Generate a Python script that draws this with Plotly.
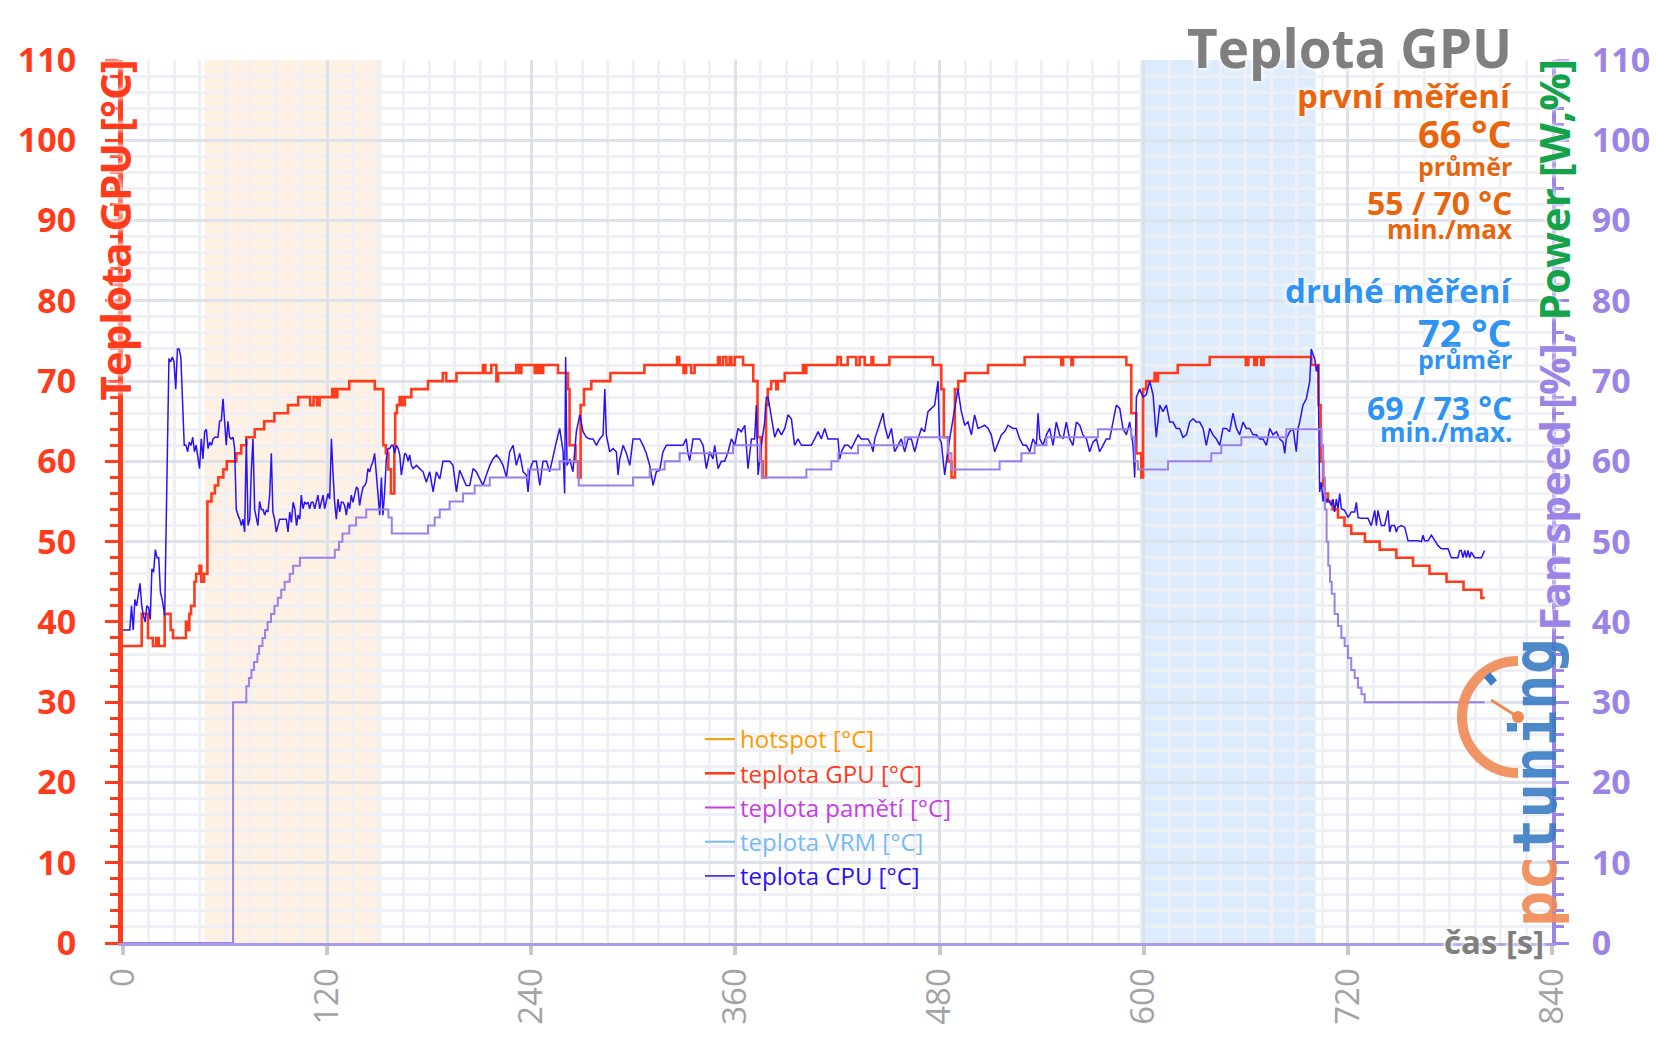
import plotly.graph_objects as go

# ---------------- data ----------------
gpu_t = [0, 11, 14.7, 17.6, 19.6, 21, 24.5, 28, 29.4, 37, 38, 39, 40, 42, 43, 45, 46, 47.6, 49.6, 52, 54, 56,
         59, 61, 66.6, 69.5, 72.5, 77.4, 83, 89, 97, 103, 110, 112, 114, 115.6, 123, 124.5, 126, 133, 148,
         153, 154.5, 156, 157.5, 159.5, 160, 161, 162.6, 164, 165.6, 169.5, 179.3, 188, 190, 196, 211.6, 213,
         216.5, 219.5, 220.5, 231.2, 232.8, 234.2, 242, 243, 244, 245, 246, 247, 255.7, 261.6, 262.5, 266,
         267.5, 269, 271, 275.3, 286.5, 306.5, 325.7, 327, 329.5, 331, 334, 336, 349.8, 350.8, 352.7, 354.7,
         356.6, 357.6, 359.6, 364.5, 370.5, 373, 375, 376, 378, 379, 381, 384, 385, 389, 399.7, 400.7, 401.7,
         420, 422, 426, 431, 433, 436, 440, 441, 450.5, 476, 481, 482.5, 485, 487, 489, 491, 495, 508.5, 530,
         551.5, 552.6, 557.5, 558.4, 589.8, 592.7, 595.7, 598.6, 599.6, 601.5, 606.4, 607.4, 608.4, 620,
         638.8, 660, 661.5, 665, 666.5, 669, 670.5, 698.5, 702.8, 704, 705.5, 706.4, 708.3, 711, 714.2, 718,
         722, 730, 738.7, 748.5, 758.3, 768, 778, 788, 798.5, 800.5]
gpu_v = [37, 41, 38, 37, 38, 37, 41, 39, 38, 40, 39, 41, 42, 45, 46, 47, 45, 46, 55, 56, 57, 58,
         59, 60, 61, 62, 63, 64, 65, 66, 67, 68, 67, 68, 67, 68, 69, 68, 69, 70, 69,
         62, 61, 59, 56, 62, 66, 67, 68, 67, 68, 69, 70, 71, 70, 71, 72, 71,
         72, 70, 71, 72, 71, 72, 71, 72, 71, 72, 71, 72, 71, 69, 62, 60,
         58, 67, 69, 70, 71, 72, 73, 72, 71, 72, 71, 72, 73, 72, 73, 72,
         73, 72, 73, 72, 70, 63, 60, 58, 67, 69, 70, 69, 70, 71, 72, 71, 72,
         73, 72, 73, 72, 73, 72, 73, 72, 73, 72, 69, 63, 60, 58, 69, 70, 71, 72, 73,
         72, 73, 72, 73, 72, 66, 61, 58, 69, 70, 71, 70, 71, 72,
         73, 72, 73, 72, 73, 72, 73, 72, 67, 60, 57, 56, 55, 54, 53, 52,
         51, 50, 49, 48, 47, 46, 45, 44, 43, 43]

cpu_t = [0, 2, 4, 5, 6, 7, 8, 10, 11, 12, 13, 14, 15, 16, 17, 18, 19, 20, 21, 22, 23, 24.5, 25.5, 27, 28, 29,
         30, 31, 32, 33, 34, 35, 36, 37, 38, 39, 40, 41, 42, 43, 44, 45, 46, 47, 48, 49, 50, 51, 52, 53, 54,
         55.8, 56.8, 57.8, 58.8, 59.8, 60.7, 61.7, 62.7, 63.7, 64.7, 65.6, 66.6, 67.6, 68.6, 69.6, 70.5, 71.5,
         72.5, 73.5, 74.5, 75.4, 76.4, 77.4, 78.4, 79.3, 80.3, 81.3, 82.3, 83.3, 84.2, 85.2, 86.2, 87.2, 88.1,
         89.1, 90.1, 91.1, 92.1, 93.1, 95, 96, 97, 98, 99, 100, 101, 102, 102.9, 103.9, 104.8, 105.8, 106.8,
         107.8, 108.8, 109.7, 110.7, 111.7, 112.7, 113.6, 114.6, 115.6, 116.6, 117.6, 118.5, 119.5, 120.5,
         121.5, 122.5, 123.4, 124.4, 125.4, 126.4, 127.4, 128.3, 129.3, 130.3, 131.3, 132.3, 133.2, 134.2,
         135.2, 136.2, 137.2, 138.1, 139.1, 140.1, 141.1, 142.1, 143, 144, 145, 146, 147, 147.9, 148.9,
         149.9, 150.9, 151.9, 152.8, 153.8, 154.8, 155.8, 156.8, 157.8, 158.7, 159.7, 160.7, 161.7, 162.7,
         163.6, 164.6, 165.6, 166.6, 167.6, 168.5, 169.5, 170.5,
         172.5, 174.4, 176.4, 178.3, 180.3, 182.3, 184.2, 186.2, 188.1, 190.1, 192.0, 194.0, 196.0, 197.9,
         199.9, 201.8, 203.8, 205.8, 207.7, 209.7, 211.6, 213.6, 215.6, 217.5, 219.5, 221.4, 223.4, 225.4,
         227.3, 229.3, 231.2, 233.2, 235.2, 237.1, 238.1, 239.1, 241.0, 243.0, 245.0, 246.9, 248.9, 250.8,
         252.8, 254.7, 256.7, 258.7, 259.6, 260.2, 261.0, 262.6, 264.5, 266.5, 268.5, 270.4, 272.4, 274.3,
         276.3, 278.3, 280.2, 282.2, 283.2, 284.1, 286.1, 288.1, 290.0, 291.0, 292.0, 294.0, 295.9, 297.9,
         299.8, 301.8, 303.8, 305.7, 307.6, 309.6, 311.6, 313.5, 315.5, 317.4, 319.4, 321.4, 323.3, 325.3,
         327.2, 329.2, 331.1, 332.1, 333.1, 335.1, 337.0, 339.0, 341.0, 342.9, 344.9, 346.8,
         347.8, 349.8, 351.7, 353.7, 355.7, 357.6, 359.6, 361.5, 363.5, 365.5, 367.4, 369.4, 371.3, 372.3,
         373.3, 375.2, 377.2, 378.2, 379.2, 381.1, 383.1, 385, 387, 389, 390.9, 392.9, 394.8, 396.8, 398.8,
         400.7, 402.7, 404.6, 406.6, 408.6, 410.5, 412.5, 414.4, 416.4, 418.4, 420.3, 421.3, 422.3, 424.2,
         426.2, 428.1, 430.1, 432.1, 434, 436, 437.9, 439.9, 440.9, 441.9, 443.8, 445.8, 446.8, 447.7,
         449.7, 451.7, 453.6, 455.6, 457.5, 459.5, 461.5, 463.4, 465.4, 467.3, 469.3, 471.2, 473.2, 475.2,
         477.1, 479.1, 480, 481, 483, 485, 486.9, 488.9, 490.8, 492.8, 494.8, 496.7, 498.7, 500.6, 502.6,
         504.6, 506.5, 508.5, 510.4, 512.4, 514.4, 516.3, 518.3, 520.2,
         523.2, 525.1, 527.1, 529.1, 531, 533, 534.9, 536.9, 537.9, 538.9, 540.8, 542.8, 544.7, 546.7,
         548.6, 550.6, 552.6, 554.5, 556.5, 558.4, 560.4, 562.4, 564.3, 566.3, 568.2, 570.2, 572.2, 574.1,
         576.1, 578, 580, 582, 583.9, 585.9, 587.8, 589.8, 591.8, 593.7, 594.7, 595.7, 597.6, 599.6, 601.5,
         603.5, 605.5, 607.4, 609.4, 611.3, 613.3, 615.3, 617.2, 619.2, 621.1, 623.1, 625.1, 627, 629,
         630.9, 632.9, 634.9, 636.8, 638.8, 640.7, 642.7, 644.7, 646.6, 648.6, 650.5, 652.5, 654.5, 656.4,
         658.4, 660.3, 662.3, 664.3, 666.2, 668.2, 670.1, 672.1, 674.1, 676, 678, 679.9, 681.9, 682.9,
         683.8, 685.8, 687.8, 689.7, 690.7, 691.7, 693.6,
         695.6, 697.6, 698.5, 699.5, 700.5, 701.5, 702.5, 702.8, 703.4, 704.4, 705.4, 706.4, 707.4, 708.3,
         710.3, 711.3, 712.2, 713.2, 714.2, 715.2, 716.2, 718.1, 720.1, 722, 724, 725, 726, 727.9, 729.9,
         731.8, 733.8, 734.8, 735.8, 736.8, 737.7, 739.7, 741.6, 743.6, 744.6, 745.6, 747.5, 748.5, 749.5,
         751.4, 753.4, 755.4, 757.3, 759.3, 761.2, 763.2, 764.2, 765.1, 767.1, 769.1, 771, 773, 775, 776.9,
         778.9, 780.8, 782.8, 784.7, 785.7, 786.7, 787.7, 788.7, 789.7, 790.6, 791.6, 792.6, 794.5, 796.5,
         798.5, 800.4]
cpu_v = [39, 39, 39, 42, 39, 42.8, 42, 44.8, 42, 40.8, 40, 42, 41.8, 40.3, 46.6, 46.2, 49, 48, 48, 43.7, 42.8,
         40.8, 55, 72.8, 72.4, 73,
         72.4, 69, 74, 74, 73, 67, 62, 62, 61.2, 62.4, 62, 63, 61.2, 62, 60.3, 59.1, 62.8, 60.3, 63.7, 64, 61.6,
         62.4, 62, 62.8, 63,
         63, 65, 65.1, 67.8, 65, 62, 65, 63, 62.8, 63, 61.6, 54, 53.3, 52.8, 52, 52.8, 51.2,
         62.8, 52, 52.8, 58.7, 62.8, 54, 52.8, 52, 55, 54, 54, 53.3, 53.9, 53.7, 55.8, 61, 53.7,
         52.8, 51.2, 52, 52.8, 52.8, 52.8, 52.8, 51.2, 53.7, 52.4, 54.9, 54.1, 52, 53.3, 52.8, 55.8, 54.1, 54.9,
         54.7, 54.9, 54.1, 54.9, 54.9, 54.1, 54.9, 55.8, 54.1, 54.9, 55.8, 54.1, 54.9, 56,
         55.3, 62.8, 58.7, 54.9, 52.8, 55.3, 53.7, 54.9, 54.9, 54.5, 53.3, 54.9, 54.1, 55.8,
         54.9, 55.8, 56.8, 56.6, 54.5, 55.8, 56.8, 57, 57.4, 59.1, 58.7, 59.5, 60, 61, 58.7,
         56.6, 53.3, 58, 53.3, 56.2, 60.3, 61.6, 61.6, 62, 62, 61, 62, 61.6, 60.8,
         58.3, 60, 61, 60.8, 60, 60.8, 59.5, 59.1,
         59.5, 59.1, 58.7, 57.4, 58.7, 56.2, 58.7, 57.8, 60, 60, 60, 59.5, 56.2, 58.9,
         57.8, 57, 57, 59.1, 58.7, 57.8, 57, 58.3, 59.5, 60.3, 60.8, 60.3, 59.5, 58,
         61.2, 62, 59.5, 61, 58.7, 58.3, 56.2, 58.9, 60, 60, 57, 60, 60, 58.7,
         60.8, 62.4, 64.1, 61.2, 56, 73, 59.5, 60.3, 58.7, 63.7, 65.8, 63.7, 63, 62.8,
         62.8, 62, 62.8, 63.3, 69, 63.3, 61.2, 61.6, 61.2, 58.3, 60.3, 62, 61, 59.5,
         62.8, 62.8, 62.8, 62, 61, 59.5, 57, 58.7, 58.9, 61.2, 62, 62, 62, 62,
         62, 62, 62.8, 61, 60.1, 62.8, 62.8, 62.8, 62, 59.1, 61.2, 60.3,
         62, 59.1, 60, 60, 61.2, 62.8, 62, 64.1, 63.7, 64.5, 59.1, 62.8, 62.8, 67,
         58.3, 62, 64.9, 68, 68, 65.3, 63, 64.1, 63.3, 64.1, 65.8, 65.3, 62, 62.8, 62,
         62, 62, 62, 62.8, 63.7, 62.8, 64.1, 62.8, 62.8, 62.8, 62.8, 60.3, 61.2, 62,
         62, 61.6, 62.4, 63.3, 62.8, 62.8, 62.8, 62, 61.2, 62.8, 64.1, 65.3, 66, 64.5,
         62.8, 64.1, 61.2, 62, 62.8, 61.2, 62.8, 62.8, 61.2, 62.8, 64.1, 63.7, 66.2, 66.6,
         67, 70, 62.8, 62.4, 58.3, 61.6, 64.1, 67, 69, 66.2, 64.5, 64.9, 63.3, 65.8, 64.1,
         64.3, 64.5, 64.1, 63.3, 61.2, 62.4, 63.3, 63.7, 64.5,
         64.1, 64.1, 62.8, 62, 62, 61.2, 62.8, 62, 66, 62.8, 62, 63.3, 64.1, 62,
         64.9, 63.3, 62.8, 64.9, 62.8, 62, 64.9, 64.5, 63.3, 62.8, 61.2, 62.4, 62.8, 61.2,
         62, 62.8, 62.8, 64.9, 67, 66.6, 64.1, 63.3, 64.9, 62, 58, 68, 69, 68, 68.3,
         70, 68.3, 63, 67, 66.2, 67, 64.9, 64.9, 64.1, 64.1, 63, 63.3, 64.9, 65.3,
         64.9, 64.9, 64.1, 62, 64.1, 63.3, 62.8, 62, 64.1, 64.1, 63.7, 66, 64.1, 63.3,
         64.9, 64.1, 64.1, 63.3, 63.3, 62.8, 62.8, 62, 64.1, 63.3, 63.7, 62.8, 62.4, 61,
         62.8, 63.7, 64.1, 61.2, 64.1, 64.9, 67,
         67.8, 70, 74, 73.3, 72.8, 71.2, 72, 67, 56.2, 57.4, 55, 56.2, 54.9, 55.3,
         54.5, 55.3, 53.7, 55.3, 54.1, 56, 54.1, 53.9, 53, 53.7, 53.7, 54.9, 53, 52.9, 52.9,
         52.9, 52, 52.8, 53.9, 52, 53.9, 52, 52, 53.9, 51.2, 52, 52, 51.2, 51.8,
         52, 51.8, 50.1, 50.1, 50.1, 50.1, 50, 50.8, 50.1, 50.1, 50.8, 50.1, 49.5, 49.1, 49.1,
         49.1, 48, 48, 48, 48.9, 48.9, 48, 48.9, 48, 48.9, 48, 48.7, 48, 48,
         48, 48.9]

fan_t = [0, 64.7, 72.5, 74, 75.5, 77, 79, 80, 82, 83.5, 85, 87, 89, 91, 93, 95, 98, 100, 104, 124.5, 127,
         129, 133, 137, 143, 156, 158, 179.3, 183.2, 186.2, 192, 199.9, 206.7, 215.6, 238.1, 256.7, 267.9,
         299.8, 309.6, 318.4, 327.2, 358.6, 374.5, 375.5, 401.7, 416.4, 420.5, 432.1, 459.5, 485, 487,
         515.3, 528.1, 535.9, 542.8, 573.1, 592.7, 594.7, 596.6, 614.3, 639.7, 645.6, 657.4, 683.8,
         704.5, 705.5, 706.5, 707.5, 708.5, 709.5, 710.5, 712.2, 714.2, 716.2, 718.1, 720.1, 722, 724,
         726, 728, 729.9, 800.4]
fan_v = [0, 30, 32, 33, 34, 35, 36, 37, 38, 39, 40, 41, 42, 43, 44, 45, 46, 47, 48, 49, 50,
         51, 52, 53, 54, 53, 51, 52, 53, 54, 55, 56, 57, 58, 59, 60, 57,
         58, 59, 60, 61, 62, 60, 58, 59, 60, 61, 62, 63, 61, 59,
         60, 61, 62, 63, 64, 63, 60, 59, 60, 61, 62, 63, 64,
         62, 58, 54, 50, 47, 45, 43.5, 41, 39.5, 38, 37, 35.5, 34, 33,
         31.8, 31, 30, 30]

x_ticks = [0, 120, 240, 360, 480, 600, 720, 840]
y_ticks = [0, 10, 20, 30, 40, 50, 60, 70, 80, 90, 100, 110]
band_first = [48, 152]
band_second = [598, 701]
legend_names = ["hotspot [°C]", "teplota GPU [°C]", "teplota pamětí [°C]", "teplota VRM [°C]", "teplota CPU [°C]"]
legend_colors = ["#FF9A00", "#FF3B1B", "#C83DE8", "#78BAF5", "#2A12F5"]

# ---------------- styling ----------------
W, H = 1656, 1043
L, R, T, B = 123, 104, 60, 100
PW, PH = W - L - R, H - T - B
FONT = "Open Sans"
RED = "#FF3B1B"
PURPLE = "#9B84E6"
GREEN = "#14A24A"
ORANGE_T = "#E8650D"
BLUE_T = "#2E93F2"
GREY_T = "#7F7F7F"
GLOW = "0px 0px 4px #ffffff, 0px 0px 6px #ffffff"


def px(x):
    return (x - L) / PW


def py(y):
    return 1 - (y - T) / PH


def colored(txt, col):
    return f"<span style='color:{col}'>{txt}</span>"


fig = go.Figure()

for i, (nm, col) in enumerate(zip(legend_names, legend_colors)):
    if i == 1:
        fig.add_trace(go.Scatter(x=gpu_t, y=gpu_v, mode="lines", line_shape="hv",
                                 name=colored(nm, col), line=dict(color=col, width=2.6)))
    elif i == 4:
        fig.add_trace(go.Scatter(x=cpu_t, y=cpu_v, mode="lines",
                                 name=colored(nm, col), line=dict(color=col, width=1.5)))
    else:
        # sensor not logged in this measurement -> legend entry only
        fig.add_trace(go.Scatter(x=[None], y=[None], mode="lines", showlegend=True,
                                 name=colored(nm, col), line=dict(color=col, width=2)))

fig.add_trace(go.Scatter(x=fan_t, y=fan_v, mode="lines", line_shape="hv", yaxis="y2",
                         showlegend=False, line=dict(color="#9A80E8", width=2)))

grid_major = "#DDE1EA"
grid_minor = "#EEF0F5"

fig.update_layout(
    width=W, height=H,
    margin=dict(l=L, r=R, t=T, b=B, autoexpand=False),
    paper_bgcolor="white", plot_bgcolor="white",
    font=dict(family=FONT),
    showlegend=True,
    legend=dict(x=px(700), y=py(717), xanchor="left", yanchor="top",
                bgcolor="rgba(0,0,0,0)", font=dict(size=24, family=FONT),
                itemwidth=30, tracegroupgap=0),
    xaxis=dict(range=[0, 840], tickvals=x_ticks, ticktext=[str(v) for v in x_ticks],
               tickangle=-90, tickfont=dict(size=33, color="#A3A3A3", family=FONT),
               showgrid=True, gridcolor=grid_major, gridwidth=3,
               minor=dict(dtick=15, showgrid=True, gridcolor=grid_minor, gridwidth=2.5, ticks=""),
               showline=True, linecolor="#A99BE8", linewidth=3,
               ticks="outside", ticklen=9, tickwidth=4, tickcolor="#C8C8C8",
               zeroline=False, fixedrange=True),
    yaxis=dict(range=[0, 110], tickvals=y_ticks,
               tickfont=dict(size=34, color=RED, family=FONT, weight="bold"),
               showgrid=True, gridcolor=grid_major, gridwidth=3,
               minor=dict(dtick=2, showgrid=True, gridcolor=grid_minor, gridwidth=2.5,
                          ticks="outside", ticklen=8, tickwidth=3, tickcolor=RED),
               showline=True, linecolor=RED, linewidth=5,
               ticks="outside", ticklen=13, tickwidth=3, tickcolor=RED,
               ticklabelstandoff=22, zeroline=False),
    yaxis2=dict(range=[0, 110], tickvals=y_ticks, overlaying="y", side="right", anchor="x",
                tickfont=dict(size=34, color=PURPLE, family=FONT, weight="bold"),
                showgrid=False, showline=True, linecolor=PURPLE, linewidth=4,
                minor=dict(dtick=2, ticks="outside", ticklen=8, tickwidth=3, tickcolor=PURPLE),
                ticks="outside", ticklen=13, tickwidth=3, tickcolor=PURPLE,
                ticklabelstandoff=16, zeroline=False),
)

# shaded measurement windows
fig.add_shape(type="rect", xref="x", yref="paper", x0=band_first[0], x1=band_first[1], y0=0, y1=1,
              fillcolor="rgba(250,200,150,0.28)", line=dict(width=0), layer="between")
fig.add_shape(type="rect", xref="x", yref="paper", x0=band_second[0], x1=band_second[1], y0=0, y1=1,
              fillcolor="rgba(120,180,245,0.25)", line=dict(width=0), layer="between")

ann = []
ann.append(dict(text="Teplota GPU [°C]", x=px(114), y=py(58), xref="paper", yref="paper",
                xanchor="center", yanchor="top", textangle=-90, showarrow=False,
                font=dict(size=42, color=RED, family=FONT, weight="bold", shadow=GLOW)))
ann.append(dict(text=colored("Fan speed [%], ", PURPLE) + colored("Power [W,%]", GREEN),
                x=px(1553), y=py(58), xref="paper", yref="paper",
                xanchor="center", yanchor="top", textangle=-90, showarrow=False,
                font=dict(size=42, family=FONT, weight="bold", shadow=GLOW)))
ann.append(dict(text="čas [s]", x=px(1546), y=py(941), xref="paper", yref="paper",
                xanchor="right", yanchor="middle", showarrow=False,
                font=dict(size=33, color=GREY_T, family=FONT, weight="bold", shadow=GLOW)))

stats = [
    ("Teplota GPU", 53, GREY_T, 47),
    ("první měření", 33, ORANGE_T, 95),
    ("66 °C", 38, ORANGE_T, 133),
    ("průměr", 25, ORANGE_T, 166),
    ("55 / 70 °C", 32, ORANGE_T, 202),
    ("min./max", 26, ORANGE_T, 229),
    ("druhé měření", 33, BLUE_T, 290),
    ("72 °C", 38, BLUE_T, 332),
    ("průměr", 25, BLUE_T, 359),
    ("69 / 73 °C", 32, BLUE_T, 407),
    ("min./max.", 26, BLUE_T, 432),
]
for txt, size, col, yc in stats:
    ann.append(dict(text=txt, x=px(1514), y=py(yc), xref="paper", yref="paper",
                    xanchor="right", yanchor="middle", showarrow=False,
                    font=dict(size=size, color=col, family=FONT, weight="bold", shadow=GLOW)))

# pctuning logo (approximation)
ann.append(dict(text=colored("pc", "#F08A55") + colored("tuning", "#3B7DC4"),
                x=px(1535), y=py(783), xref="paper", yref="paper",
                xanchor="center", yanchor="middle", textangle=-90, showarrow=False, opacity=0.9,
                font=dict(size=60, family="DejaVu Sans Mono", weight="bold")))
fig.update_layout(annotations=ann)

cx, cy = px(1518), py(717)
fig.add_shape(type="path", xref="paper", yref="paper", xsizemode="pixel", ysizemode="pixel",
              xanchor=cx, yanchor=cy,
              path="M 0,56 C -31,56 -56,31 -56,0 C -56,-31 -31,-56 0,-56",
              line=dict(color="#F08A55", width=10), opacity=0.9, layer="above")
fig.add_shape(type="path", xref="paper", yref="paper", xsizemode="pixel", ysizemode="pixel",
              xanchor=cx, yanchor=cy, path="M 0,0 L -27,17",
              line=dict(color="#F08A55", width=3), layer="above")
fig.add_shape(type="circle", xref="paper", yref="paper", xsizemode="pixel", ysizemode="pixel",
              xanchor=cx, yanchor=cy, x0=-6, x1=6, y0=-6, y1=6,
              fillcolor="#F08A55", line=dict(width=0), layer="above")
fig.add_shape(type="path", xref="paper", yref="paper", xsizemode="pixel", ysizemode="pixel",
              xanchor=cx, yanchor=cy, path="M -31,42 L -24,34",
              line=dict(color="#3B7DC4", width=8), layer="above")

fig.write_html("out.html", config={"displayModeBar": False},
               post_script="document.body.style.margin='0px';")
